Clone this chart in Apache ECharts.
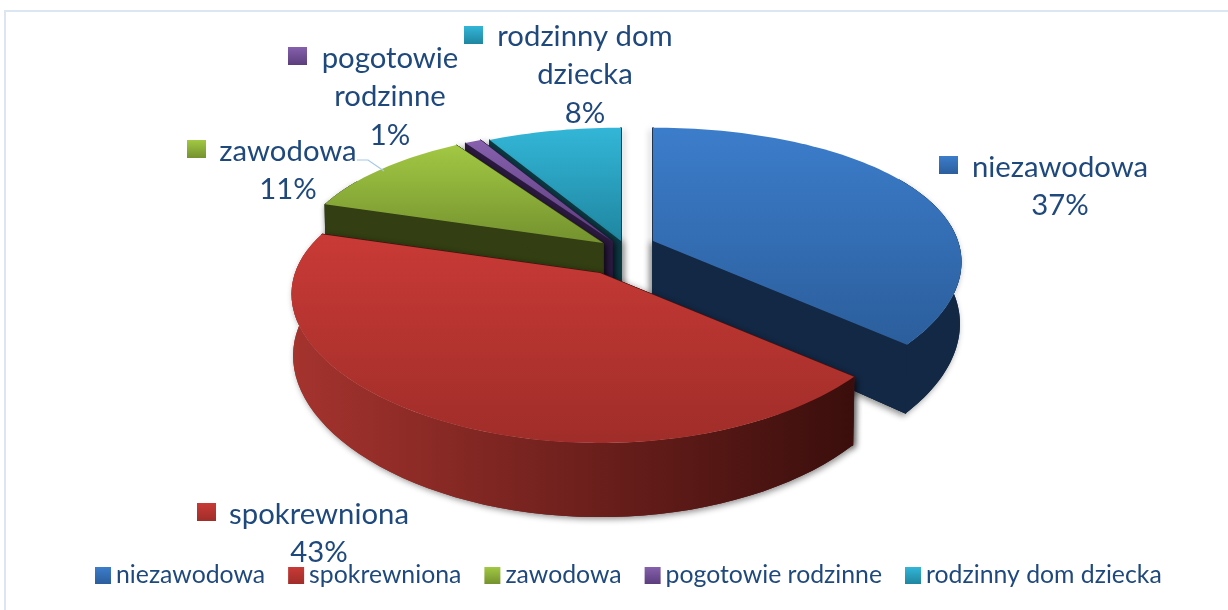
<!DOCTYPE html>
<html><head><meta charset="utf-8">
<style>html,body{margin:0;padding:0;background:#fff}#c{width:1228px;height:610px}</style>
<script src="https://cdn.jsdelivr.net/npm/echarts@6/dist/echarts.min.js"></script>
</head><body><div id="c"></div>
<script>
// Data
const categories = ['niezawodowa','spokrewniona','zawodowa','pogotowie rodzinne','rodzinny dom dziecka'];
const percents = [36.5,43.4,11,1,8.1];
const labelLines = ['niezawodowa','spokrewniona','zawodowa','pogotowie\nrodzinne','rodzinny dom\ndziecka'];

// Styles
const topColors = [['#3c7dcb','#2b5e9c'],['#c93a36','#a02d29'],['#a2c843','#74922f'],['#8660ad','#5c3d7c'],['#33b6d8','#1f86a0']];
const wallColors = ['#132845','#4a1210','#333e12','#2c1a40','#0d3a45'];
const rimStops = [['#132845','#132845'],['#a5332e','#3a0e0c'],['#333e12','#333e12'],['#2c1a40','#2c1a40'],['#0d3a45','#0d3a45']];
const explodeOffset = [[25,-14],[-28,18],[-25,-12],[-16,-14],[-7,-14]];
const labelPos = [[1060,167],[319,514],[288,151],[390,58],[585,36]];
const swatchPos = [[939,156],[197,503],[187,140],[288,47],[464,26]];
const drawOrder = [4,5,3,2,1];

// Geometry of the projected disc
const cx=628, cy=255, R=305, Rk=136, perspY=0.2, perspX=0.15, depth0=60, depthScale=0.995;
const total = percents.reduce((a,b)=>a+b,0);
function grad(c){return {type:'linear',x:0,y:0,x2:0,y2:1,colorStops:[{offset:0,color:c[0]},{offset:1,color:c[1]}]};}
function gradH(c){return {type:'linear',x:0,y:0,x2:1,y2:0,colorStops:[{offset:0,color:c[0]},{offset:1,color:c[1]}]};}
function ring(deg){
  const a=deg*Math.PI/180, x=Math.sin(a), y=-Math.cos(a), f=1/(1-perspY*y);
  return [x*R/(1-perspX*y), y*Rk*f, f];
}
function renderer(i){
  let start=0; for(let j=0;j<i;j++) start+=percents[j]/total*360;
  return function(params,api){
    const end=start+api.value(0)/total*360;
    const ax=cx+explodeOffset[i][0], ay=cy+explodeOffset[i][1];
    const steps=Math.max(4,Math.ceil((end-start)/1.5)), arc=[];
    for(let s=0;s<=steps;s++) arc.push(ring(start+(end-start)*s/steps));
    const rs=Math.max(start,60), re=Math.min(end,300), rimArc=[];
    if(re>rs) for(let s=0;s<=60;s++) rimArc.push(ring(rs+(re-rs)*s/60));
    const T=p=>[ax+p[0],ay+p[1]], B=p=>[ax+p[0]*depthScale,ay+p[1]*depthScale+depth0*p[2]];
    const topPts=[[ax,ay]].concat(arc.map(T));
    const wall=p=>[[ax,ay],T(p),B(p),[ax,ay+depth0]];
    const sh={shadowBlur:6,shadowColor:'rgba(0,0,0,0.45)',shadowOffsetX:i===0?-2:2,shadowOffsetY:2};
    const wallStyle={fill:wallColors[i],stroke:wallColors[i],lineWidth:1};
    const solids=[
      {points:wall(arc[0]),style:wallStyle},
      {points:wall(arc[arc.length-1]),style:wallStyle}
    ];
    if(rimArc.length) solids.push({points:rimArc.map(T).concat(rimArc.map(B).reverse()),style:{fill:gradH(rimStops[i])}});
    const ch=[];
    solids.forEach(s=>ch.push({type:'polygon',shape:{points:s.points},style:Object.assign({},s.style,sh)}));
    solids.forEach(s=>ch.push({type:'polygon',shape:{points:s.points},style:s.style}));
    ch.push({type:'polygon',shape:{points:topPts},style:{fill:grad(topColors[i])}});
    return {type:'group',children:ch};
  };
}
const textColor='#1f497d', fontFam='Lato, "Noto Sans", sans-serif';
function labelRenderer(params,api){
  const ch=[];
  categories.forEach((c,i)=>{
    ch.push({type:'rect',shape:{x:swatchPos[i][0],y:swatchPos[i][1],width:19,height:18},style:{fill:grad(topColors[i])}});
    ch.push({type:'text',style:{text:labelLines[i]+'\n'+Math.round(percents[i])+'%',x:labelPos[i][0],y:labelPos[i][1]-19,
      align:'center',verticalAlign:'top',lineHeight:38.5,fill:textColor,font:'29.3px '+fontFam}});
  });
  ch.push({type:'polyline',shape:{points:[[357,160],[368,160],[384,171]]},style:{stroke:'#a5c8ea',lineWidth:1.2,fill:null}});
  return {type:'group',children:ch};
}
const series=categories.map((c,i)=>({
  type:'custom',name:c,coordinateSystem:'none',z:drawOrder[i]+1,silent:true,animation:false,
  itemStyle:{color:grad(topColors[i])},data:[[percents[i]]],renderItem:renderer(i)
}));
series.push({type:'custom',name:'labels',coordinateSystem:'none',z:20,silent:true,animation:false,data:[[0]],renderItem:labelRenderer});
const chart=echarts.init(document.getElementById('c'),null,{renderer:'canvas'});
chart.setOption({
  animation:false,
  graphic:[{type:'rect',z:0,shape:{x:5,y:11,width:1300,height:700},style:{fill:'#fff',stroke:'#dce6f2',lineWidth:2}}],
  legend:{data:categories,left:90,top:558,itemWidth:16,itemHeight:17,itemGap:23,icon:'rect',selectedMode:false,
    textStyle:{color:textColor,fontSize:24.8,fontFamily:fontFam,padding:[0,0,0,0]}},
  series:series
});
</script></body></html>
